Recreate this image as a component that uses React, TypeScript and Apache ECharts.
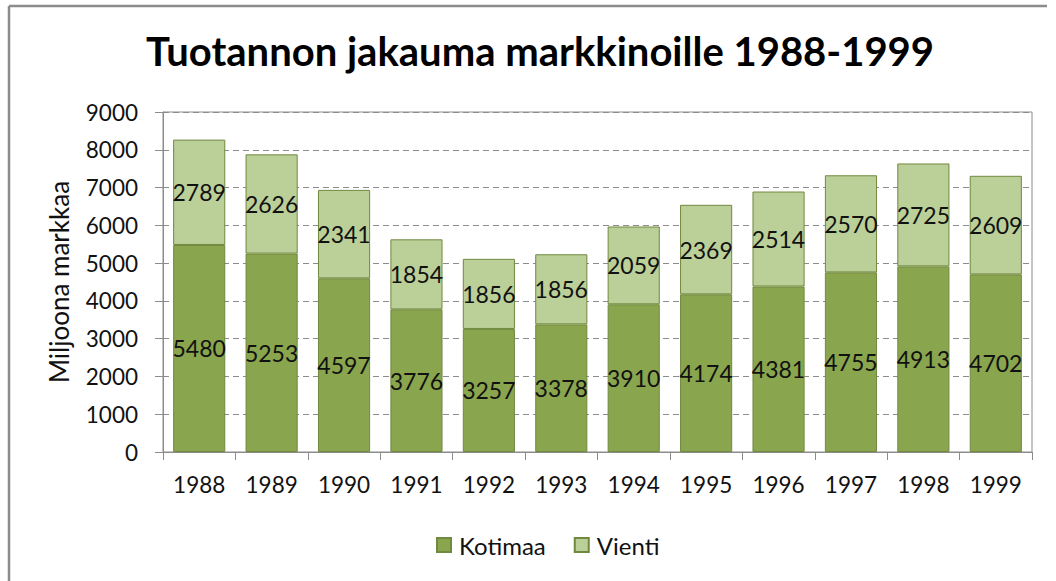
import React, { useEffect, useRef } from "react";
import * as echarts from "echarts";

const titleText = "Tuotannon jakauma markkinoille 1988-1999";
const yAxisName = "Miljoona markkaa";
const years = ["1988", "1989", "1990", "1991", "1992", "1993", "1994", "1995", "1996", "1997", "1998", "1999"];
const kotimaa = [5480, 5253, 4597, 3776, 3257, 3378, 3910, 4174, 4381, 4755, 4913, 4702];
const vienti = [2789, 2626, 2341, 1854, 1856, 1856, 2059, 2369, 2514, 2570, 2725, 2609];
const seriesNames = ["Kotimaa", "Vienti"];

const FONT = "Lato, 'Noto Sans', sans-serif";

export default function App() {
  const ref = useRef<HTMLDivElement>(null);
  useEffect(() => {
    if (!ref.current) return;
    const chart = echarts.init(ref.current, null, { renderer: "svg" });
    const labelStyle = {
      show: true,
      position: "inside",
      color: "#111",
      fontSize: 23,
      fontFamily: FONT,
    };
    chart.setOption({
      animation: false,
      backgroundColor: "#fff",
      textStyle: { fontFamily: FONT },
      title: {
        text: titleText,
        left: 535,
        top: 26,
        textAlign: "center",
        textStyle: { fontSize: 40, fontWeight: "bold", color: "#000", fontFamily: FONT },
      },
      graphic: [
        { type: "line", shape: { x1: 9, y1: 6, x2: 1047, y2: 6 }, style: { stroke: "#8c8c8c", lineWidth: 2.5 } },
        { type: "line", shape: { x1: 9, y1: 6, x2: 9, y2: 581 }, style: { stroke: "#8c8c8c", lineWidth: 2.5 } },
      ],
      legend: {
        data: seriesNames,
        left: 431,
        top: 528,
        itemWidth: 14,
        itemHeight: 14,
        itemGap: 28,
        icon: "rect",
        textStyle: { fontSize: 24, color: "#111", fontFamily: FONT, padding: [0, 0, 0, 3] },
      },
      grid: {
        left: 163,
        top: 112,
        width: 869,
        height: 340,
        show: true,
        borderColor: "#8c8c8c",
        borderWidth: 1,
      },
      xAxis: {
        type: "category",
        data: years,
        axisLine: { lineStyle: { color: "#8c8c8c" } },
        axisTick: { show: true, length: 8, lineStyle: { color: "#8c8c8c" } },
        axisLabel: { fontSize: 22.5, color: "#111", margin: 21, fontFamily: FONT },
      },
      yAxis: {
        type: "value",
        min: 0,
        max: 9000,
        interval: 1000,
        name: yAxisName,
        nameLocation: "middle",
        nameGap: 91,
        nameTextStyle: { fontSize: 26, color: "#111", fontFamily: FONT },
        axisLine: { show: true, lineStyle: { color: "#8c8c8c" } },
        axisTick: { show: true, length: 8, lineStyle: { color: "#8c8c8c" } },
        axisLabel: {
          fontSize: 22.5,
          color: "#111",
          margin: 25,
          fontFamily: FONT,
          formatter: (v: number) => String(v),
        },
        splitLine: { lineStyle: { color: "#8c8c8c", type: [6, 4] } },
      },
      series: [
        {
          name: seriesNames[0],
          type: "bar",
          stack: "total",
          data: kotimaa,
          barCategoryGap: "28%",
          itemStyle: { color: "#89a54e", borderColor: "#71893f", borderWidth: 1 },
          label: labelStyle,
        },
        {
          name: seriesNames[1],
          type: "bar",
          stack: "total",
          data: vienti,
          barCategoryGap: "28%",
          itemStyle: { color: "#bbcf98", borderColor: "#71893f", borderWidth: 1 },
          label: labelStyle,
        },
      ],
    });
    return () => chart.dispose();
  }, []);
  return <div ref={ref} style={{ width: 1056, height: 581, position: "absolute", left: 0, top: 0 }} />;
}
